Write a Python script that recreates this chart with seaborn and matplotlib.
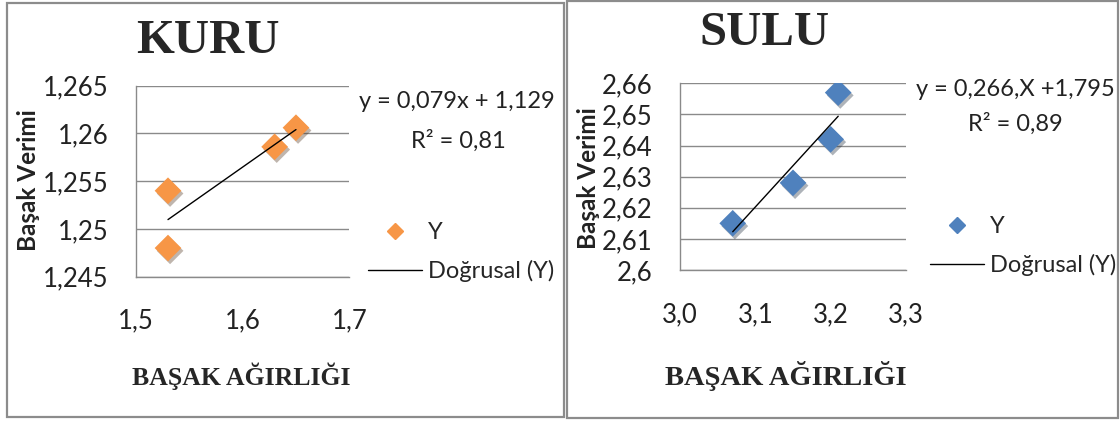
import matplotlib
matplotlib.use("Agg")
import matplotlib.pyplot as plt
import matplotlib.patheffects as pe
from matplotlib.patches import Rectangle
from matplotlib.lines import Line2D
import seaborn as sns
import pandas as pd

# KURU (dry) data
kuru_x = [1.53, 1.53, 1.63, 1.65]
kuru_y = [1.254, 1.248, 1.2586, 1.2606]
kuru_xticks = [1.5, 1.6, 1.7]
kuru_xlabels = ["1,5", "1,6", "1,7"]
kuru_yticks = [1.245, 1.25, 1.255, 1.26, 1.265]
kuru_ylabels = ["1,245", "1,25", "1,255", "1,26", "1,265"]
kuru_eq = ["y = 0,079x + 1,129", "R² = 0,81"]

# SULU (irrigated) data
sulu_x = [3.07, 3.15, 3.20, 3.21]
sulu_y = [2.615, 2.628, 2.642, 2.657]
sulu_xticks = [3.0, 3.1, 3.2, 3.3]
sulu_xlabels = ["3,0", "3,1", "3,2", "3,3"]
sulu_yticks = [2.60, 2.61, 2.62, 2.63, 2.64, 2.65, 2.66]
sulu_ylabels = ["2,6", "2,61", "2,62", "2,63", "2,64", "2,65", "2,66"]
sulu_eq = ["y = 0,266,X +1,795", "R² = 0,89"]

ORANGE = "#F79646"
BLUE = "#4F81BD"
GRID = "#8A8A8A"
SANS = ["Lato", "DejaVu Sans"]
SERIF = ["Liberation Serif", "DejaVu Serif"]

sns.set_style("white")
plt.rcParams["font.family"] = SANS

W, H = 1120, 421


def fx(px):
    return px / W


def fy(py):
    return 1 - py / H


fig = plt.figure(figsize=(W / 100, H / 100), dpi=100)

# panel frames
fig.patches.append(Rectangle((fx(7), fy(417)), fx(564) - fx(7), fy(3) - fy(417),
                             transform=fig.transFigure, fill=False, ec="#8C8C8C", lw=1.6))
fig.patches.append(Rectangle((fx(567), fy(418)), fx(1118) - fx(567), fy(1) - fy(418),
                             transform=fig.transFigure, fill=False, ec="#8C8C8C", lw=1.6))


def panel(rect, xs, ys, color, xticks, xlabels, yticks, ylabels):
    ax = fig.add_axes(rect)
    df = pd.DataFrame({"x": xs, "y": ys})
    sns.regplot(data=df, x="x", y="y", ax=ax, ci=None, marker="D", truncate=True,
                scatter_kws=dict(s=185, color=color, alpha=1, linewidths=0, zorder=3,
                                 path_effects=[pe.SimplePatchShadow(offset=(1.5, -2), alpha=0.35),
                                               pe.Normal()]),
                line_kws=dict(color="black", lw=1.0, zorder=4))
    ax.set_xlim(xticks[0], xticks[-1])
    ax.set_ylim(yticks[0], yticks[-1])
    ax.set_xticks(xticks)
    ax.set_xticklabels(xlabels)
    ax.set_yticks(yticks)
    ax.set_yticklabels(ylabels)
    ax.set_xlabel("")
    ax.set_ylabel("")
    ax.grid(axis="y", color=GRID, lw=1.0)
    ax.set_axisbelow(True)
    for s in ["top", "right"]:
        ax.spines[s].set_visible(False)
    for s in ["left", "bottom"]:
        ax.spines[s].set_color(GRID)
        ax.spines[s].set_linewidth(1.0)
    ax.tick_params(axis="y", length=6, width=1.0, color=GRID, pad=14, labelsize=18.5, labelcolor="#222222")
    ax.tick_params(axis="x", length=6, width=1.0, color=GRID, pad=17, labelsize=18.5, labelcolor="#222222")
    ax.patch.set_alpha(0)
    return ax


ax1 = panel([fx(136), fy(276.7), fx(349.3) - fx(136), fy(85.7) - fy(276.7)],
            kuru_x, kuru_y, ORANGE, kuru_xticks, kuru_xlabels, kuru_yticks, kuru_ylabels)
ax2 = panel([fx(680), fy(270), fx(906) - fx(680), fy(83.3) - fy(270)],
            sulu_x, sulu_y, BLUE, sulu_xticks, sulu_xlabels, sulu_yticks, sulu_ylabels)


def legend(ax, color, x0, yc):
    handles = [Line2D([], [], ls="", marker="D", color=color, markersize=8),
               Line2D([], [], color="black", lw=1.0)]
    ax.legend(handles, ["Y", "Doğrusal (Y)"], loc="center left",
              bbox_to_anchor=(fx(x0), fy(yc)), bbox_transform=fig.transFigure,
              frameon=False, fontsize=17, handlelength=2.3, handletextpad=0.25,
              labelspacing=0.7, borderpad=0, borderaxespad=0)


legend(ax1, ORANGE, 368, 252)
legend(ax2, BLUE, 930, 246)

# trendline equations
fig.text(fx(457), fy(101), kuru_eq[0], ha="center", va="center", fontsize=17, color="#222222")
fig.text(fx(458), fy(141), kuru_eq[1], ha="center", va="center", fontsize=17, color="#222222")
fig.text(fx(1015), fy(90), sulu_eq[0], ha="center", va="center", fontsize=17, color="#222222")
fig.text(fx(1015), fy(124), sulu_eq[1], ha="center", va="center", fontsize=17, color="#222222")

# titles
fig.text(fx(208), fy(41), "KURU", ha="center", va="center", fontsize=35,
         fontweight="bold", family=SERIF)
fig.text(fx(764), fy(33), "SULU", ha="center", va="center", fontsize=35,
         fontweight="bold", family=SERIF)

# axis titles
fig.text(fx(241), fy(376), "BAŞAK AĞIRLIĞI", ha="center", va="center", fontsize=18.5,
         fontweight="bold", family=SERIF)
fig.text(fx(786), fy(376), "BAŞAK AĞIRLIĞI", ha="center", va="center", fontsize=20.5,
         fontweight="bold", family=SERIF)
fig.text(fx(29), fy(180), "Başak Verimi", ha="center", va="center", rotation=90,
         fontsize=17.5, fontweight="bold", color="#222222")
fig.text(fx(588), fy(178), "Başak Verimi", ha="center", va="center", rotation=90,
         fontsize=17.5, fontweight="bold", color="#222222")

fig.savefig("out.png", dpi=100)
